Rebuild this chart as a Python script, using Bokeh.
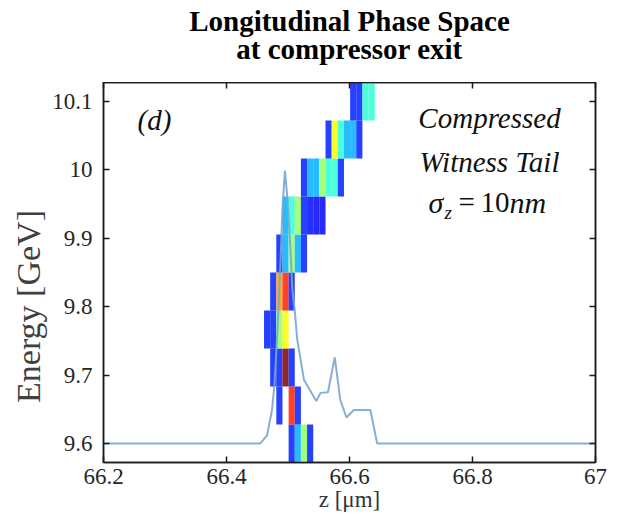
import numpy as np
from bokeh.plotting import figure
from bokeh.layouts import column
from bokeh.core.properties import value
from bokeh.models import (ColumnDataSource, LinearColorMapper, FixedTicker,
                          PrintfTickFormatter, LinearAxis, Label, Range1d)
from bokeh.transform import transform
from bokeh.embed import file_html
from bokeh.resources import INLINE

# ---- data -------------------------------------------------------------
title_lines = ["Longitudinal Phase Space", "at compressor exit"]

# z bin centres [um]
z_centres = [66.466, 66.476, 66.486, 66.496, 66.506, 66.516, 66.526, 66.536, 66.546,
             66.556, 66.566, 66.576, 66.586, 66.596, 66.606, 66.616, 66.626, 66.636]
# energy bin centres [GeV]
energy_centres = [9.6000, 9.6556, 9.7111, 9.7667, 9.8222,
                  9.8778, 9.9333, 9.9889, 10.0444, 10.1000]
# normalised phase-space density, one row per energy bin (bottom to top)
density = [
    [0, 0, 0, 0, .16, .30, .52, .16, 0, 0, 0, 0, 0, 0, 0, 0, 0, 0],
    [0, 0, .16, 0, .84, .16, 0, 0, 0, 0, 0, 0, 0, 0, 0, 0, 0, 0],
    [0, .16, .16, 1.0, .16, 0, 0, 0, 0, 0, 0, 0, 0, 0, 0, 0, 0, 0],
    [.16, .16, .52, .62, 0, 0, 0, 0, 0, 0, 0, 0, 0, 0, 0, 0, 0, 0],
    [0, .16, .72, .84, .16, 0, 0, 0, 0, 0, 0, 0, 0, 0, 0, 0, 0, 0],
    [0, 0, .16, .30, .52, .30, .16, 0, 0, 0, 0, 0, 0, 0, 0, 0, 0, 0],
    [0, 0, 0, .30, .42, .52, .16, .14, .13, .13, 0, 0, 0, 0, 0, 0, 0, 0],
    [0, 0, 0, 0, 0, 0, .16, .30, .30, .52, .42, .42, .16, 0, 0, 0, 0, 0],
    [0, 0, 0, 0, 0, 0, 0, 0, 0, 0, .16, .62, .42, .30, .30, .16, 0, 0],
    [0, 0, 0, 0, 0, 0, 0, 0, 0, 0, 0, 0, 0, 0, .16, .16, .42, .42],
]
z_bin_width = 0.01
energy_bin_height = 0.0556

# current profile overlay
profile_z = [66.200, 66.455, 66.466, 66.474, 66.478, 66.483, 66.488, 66.491, 66.495,
             66.499, 66.504, 66.507, 66.511, 66.515, 66.526, 66.546, 66.553, 66.565,
             66.576, 66.585, 66.595, 66.607, 66.634, 66.645, 67.000]
profile_E = [9.600, 9.600, 9.612, 9.649, 9.686, 9.767, 9.870, 9.944, 9.999,
             9.959, 9.885, 9.826, 9.794, 9.752, 9.693, 9.662, 9.674, 9.675,
             9.726, 9.664, 9.638, 9.649, 9.649, 9.600, 9.600]

x_ticks = [66.2, 66.4, 66.6, 66.8, 67.0]
y_ticks = [9.6, 9.7, 9.8, 9.9, 10.0, 10.1]

# ---- build ------------------------------------------------------------
def jet(v):
    r = np.clip(1.5 - abs(4 * v - 3), 0, 1)
    g = np.clip(1.5 - abs(4 * v - 2), 0, 1)
    b = np.clip(1.5 - abs(4 * v - 1), 0, 1)
    return "#%02x%02x%02x" % (int(r * 255), int(g * 255), int(b * 255))

palette = [jet(i / 255) for i in range(256)]
mapper = LinearColorMapper(palette=palette, low=0, high=1)

xs, ys, vs = [], [], []
for i, e in enumerate(energy_centres):
    for j, z in enumerate(z_centres):
        if density[i][j] > 0:
            xs.append(z); ys.append(e); vs.append(density[i][j])
cells = ColumnDataSource(dict(z=xs, E=ys, v=vs))

SERIF = "Liberation Serif, Times New Roman, serif"
INK = "#1a1a1a"
W = 633
TITLE_H = 82
FRAME_L, FRAME_R = 103, 595

# ---- title strip (its frame is aligned with the plot frame) -----------
pt = figure(width=W, height=TITLE_H, output_backend="svg", toolbar_location=None,
            x_range=Range1d(FRAME_L, FRAME_R), y_range=Range1d(0, TITLE_H),
            x_axis_location=None, y_axis_location=None)
pt.min_border = 0
pt.min_border_top = 0
pt.min_border_bottom = 0
pt.outline_line_color = None
pt.xgrid.visible = False
pt.ygrid.visible = False
pt.background_fill_color = "white"
pt.border_fill_color = "white"
pt.text(x=[349, 349], y=[TITLE_H - 20, TITLE_H - 48], text=title_lines,
        text_font=value(SERIF), text_font_size="29px", text_font_style="bold",
        text_align="center", text_baseline="alphabetic", text_color="#000000")

# ---- main plot --------------------------------------------------------
p = figure(width=W, height=519 - TITLE_H, output_backend="svg", toolbar_location=None,
           x_range=Range1d(66.2, 67.0), y_range=Range1d(9.5722, 10.1278),
           x_axis_location=None, y_axis_location=None)
p.min_border_left = FRAME_L
p.min_border_right = W - FRAME_R
p.min_border_top = 0
p.min_border_bottom = 57
p.background_fill_color = "white"
p.border_fill_color = "white"
p.outline_line_color = INK
p.outline_line_width = 1.5
p.xgrid.visible = False
p.ygrid.visible = False

p.rect(x="z", y="E", width=z_bin_width, height=energy_bin_height, source=cells,
       fill_color=transform("v", mapper), fill_alpha=0.85, line_color=None)
p.line(profile_z, profile_E, line_color="#7aa5cf", line_width=2, line_alpha=0.9)

def style_axis(ax, show_labels):
    ax.major_tick_in = 6
    ax.major_tick_out = 0
    ax.minor_tick_line_color = None
    ax.axis_line_color = INK
    ax.axis_line_width = 1.5
    ax.major_tick_line_color = INK
    ax.major_tick_line_width = 1.5
    ax.major_label_text_font = SERIF
    ax.major_label_text_font_size = "23px"
    ax.major_label_text_color = "#262626"
    ax.formatter = PrintfTickFormatter(format="%g")
    if not show_labels:
        ax.major_label_text_color = None
        ax.major_label_text_font_size = "0px"
        ax.major_label_standoff = 0

xb = LinearAxis(ticker=FixedTicker(ticks=x_ticks), axis_label="z [μm]")
style_axis(xb, True)
xb.major_label_standoff = 6
xb.axis_label_standoff = 0
xb.axis_label_text_font = SERIF
xb.axis_label_text_font_style = "normal"
xb.axis_label_text_font_size = "23px"
xb.axis_label_text_color = "#333333"
p.add_layout(xb, "below")

pad = "\u00a0" * 8
yl = LinearAxis(ticker=FixedTicker(ticks=y_ticks), axis_label="Energy [GeV]" + pad)
style_axis(yl, True)
yl.major_label_standoff = 11
yl.axis_label_standoff = 2
yl.axis_label_text_font = SERIF
yl.axis_label_text_font_style = "normal"
yl.axis_label_text_font_size = "34px"
yl.axis_label_text_color = "#404040"
p.add_layout(yl, "left")

xt = LinearAxis(ticker=FixedTicker(ticks=x_ticks))
style_axis(xt, False)
p.add_layout(xt, "above")
yr = LinearAxis(ticker=FixedTicker(ticks=y_ticks))
style_axis(yr, False)
p.add_layout(yr, "right")

def px2x(px):
    return 66.2 + (px - 103) / 615.0

def py2y(py):
    return 9.6 + (443 - py) / 677.0

def add_label(text, px, py, size="29px", style="italic", align="left"):
    p.add_layout(Label(x=px2x(px), y=py2y(py), text=text, text_font=SERIF,
                       text_font_size=size, text_font_style=style,
                       text_align=align, text_baseline="alphabetic",
                       text_color="#111111"))

# annotations
add_label("(d)", 137, 123)
add_label("Compressed", 489, 121, align="center")
add_label("Witness Tail", 489, 164, align="center")
add_label("σ", 428, 204, size="30px")
add_label("z", 444, 214, size="19px")
add_label("=", 458, 204, size="29px", style="normal")
add_label("10", 480, 204, size="29px", style="normal")
add_label("nm", 509, 204, size="30px")

layout = column(pt, p, spacing=0)
open("out.html", "w").write(file_html(layout, INLINE))
